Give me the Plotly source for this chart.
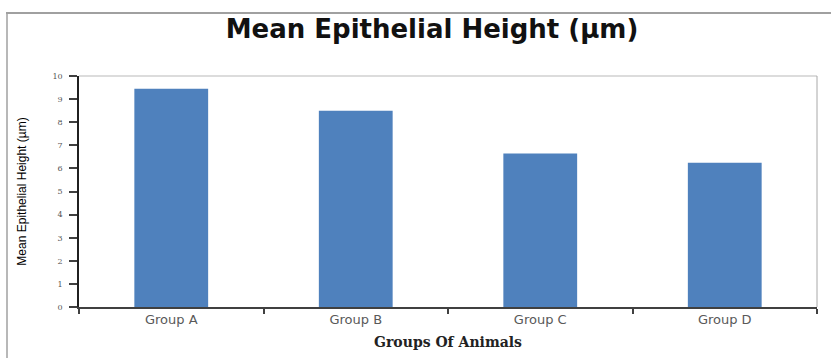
import plotly.graph_objects as go

categories = ["Group A", "Group B", "Group C", "Group D"]
values = [9.45, 8.5, 6.65, 6.25]
y_ticks = list(range(0, 11))

W, H = 831, 358
L, R, T, B = 79, 817, 76, 307

fig = go.Figure(go.Bar(x=categories, y=values, marker=dict(color="#4f81bd", line=dict(width=0)), width=0.4))

pw, ph = R - L, B - T
def px(x): return (x - L) / pw
def py(y): return (B - y) / ph

fig.update_layout(
    width=W, height=H,
    margin=dict(l=L, r=W - R, t=T, b=H - B),
    paper_bgcolor="white", plot_bgcolor="white",
    showlegend=False,
    title=dict(text="<b>Mean Epithelial Height (µm)</b>", x=432 / W, xanchor="center", y=1 - 29 / H, yanchor="middle",
               font=dict(family="DejaVu Sans", size=26, color="#111111")),
    xaxis=dict(
        showline=True, linecolor="#404040", linewidth=1.5,
        ticks="outside", tickson="boundaries", ticklen=5, tickcolor="#404040", tickwidth=1.5,
        tickfont=dict(family="DejaVu Sans", size=13, color="#595959"),
        title=dict(text="<b>Groups Of Animals</b>", standoff=11, font=dict(family="DejaVu Serif", size=14, color="#222222")),
        showgrid=False, fixedrange=True, automargin=False,
    ),
    yaxis=dict(
        range=[0, 10], tickvals=y_ticks,
        showline=True, linecolor="#202020", linewidth=1.5,
        ticks="outside", ticklen=8, tickcolor="#404040", tickwidth=1.5, ticklabelstandoff=5,
        tickfont=dict(family="DejaVu Serif", size=8, color="#555555"),
        title=dict(text="Mean Epithelial Height (µm)", standoff=23, font=dict(family="Liberation Sans Narrow, Liberation Sans", size=12, color="#000000")),
        showgrid=False, zeroline=False, fixedrange=True, automargin=False,
    ),
    shapes=[
        dict(type="line", xref="paper", yref="paper", x0=0, x1=1, y0=1, y1=1, line=dict(color="#d0d0d0", width=1.5), layer="below"),
        dict(type="line", xref="paper", yref="paper", x0=1, x1=1, y0=0, y1=1, line=dict(color="#a8a8a8", width=1), layer="below"),
        dict(type="line", xref="paper", yref="paper", x0=px(6), x1=px(832), y0=py(13), y1=py(13), line=dict(color="#a0a0a0", width=2)),
        dict(type="line", xref="paper", yref="paper", x0=px(7), x1=px(7), y0=py(13), y1=py(360), line=dict(color="#a0a0a0", width=1.5)),
    ],
)

fig.write_html("out.html")
